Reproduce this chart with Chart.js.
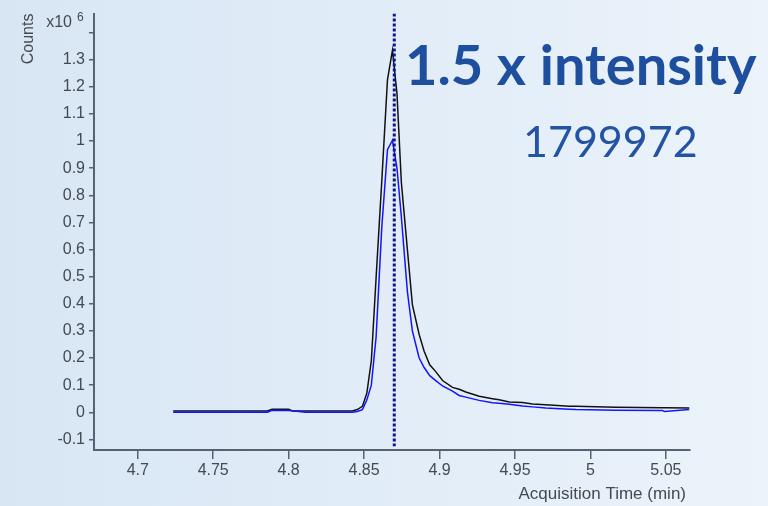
<!DOCTYPE html>
<html>
<head>
<meta charset="utf-8">
<script src="https://cdn.jsdelivr.net/npm/chart.js@4.4.1/dist/chart.umd.min.js"></script>
<style>
  html, body { margin: 0; padding: 0; }
  body {
    width: 768px; height: 506px; overflow: hidden;
    background: linear-gradient(90deg, #d8e6f4 0%, #e2edf8 55%, #ecf3fa 100%);
  }
  #wrap { position: relative; width: 768px; height: 506px; }
</style>
</head>
<body>
<div id="wrap"><canvas id="chart" width="768" height="506"></canvas></div>
<script>
// Acquisition time (min) shared by both traces
const times = [
  4.7235, 4.7859, 4.789, 4.800, 4.8025, 4.8113, 4.8422, 4.8455, 4.8489, 4.8518,
  4.8548, 4.858, 4.8617, 4.8655, 4.8688, 4.8718, 4.8747, 4.8787, 4.882, 4.8865,
  4.8898, 4.8935, 4.8975, 4.902, 4.9086, 4.913, 4.9174, 4.9263, 4.9351, 4.9395,
  4.9462, 4.955, 4.9616, 4.9704, 4.986, 4.9904, 5.0169, 5.0478, 5.049, 5.0655
];

// Counts, x10^6
const blackCounts = [
  0.005, 0.005, 0.011, 0.011, 0.005, 0.005, 0.005, 0.010, 0.022, 0.07,
  0.19, 0.50, 0.85, 1.226, 1.335, 1.175, 0.847, 0.60, 0.397, 0.287,
  0.225, 0.175, 0.150, 0.117, 0.092, 0.085, 0.075, 0.059, 0.050, 0.046,
  0.038, 0.036, 0.031, 0.028, 0.022, 0.022, 0.019, 0.017, 0.017, 0.016
];
const blueCounts = [
  0.0, 0.0, 0.007, 0.007, 0.006, 0.0, 0.0, 0.003, 0.010, 0.045,
  0.10, 0.28, 0.68, 0.968, 1.003, 0.90, 0.72, 0.445, 0.30, 0.20,
  0.165, 0.135, 0.117, 0.097, 0.078, 0.062, 0.056, 0.044, 0.035, 0.033,
  0.030, 0.023, 0.020, 0.016, 0.011, 0.010, 0.008, 0.007, 0.003, 0.010
];

// Retention time marker and its vertical extent
const markerTime = 4.87;
const markerSpan = [1.47, -0.125];

// Axis ranges and tick steps
const xRange = [4.671, 5.066];
const xStep = 0.05;
const yRange = [-0.139, 1.47];
const yStep = 0.1;

const titleText = '1.5 x intensity';
const areaText = '1799972';
const xTitle = 'Acquisition Time (min)';

const axisColor = '#56626f';
const labelColor = '#454a50';
const FONT = "'Liberation Sans', Arial, sans-serif";

const toPoints = (xs, ys) => xs.map((x, i) => ({ x: x, y: ys[i] }));

/**
 * Scritte libere: esponente dell'asse y, titolo asse x e testi in alto a destra
 */
const overlayPlugin = {
  id: 'overlay',
  afterDraw(chart) {
    const ctx = chart.ctx;
    ctx.save();
    ctx.fillStyle = labelColor;
    ctx.textBaseline = 'alphabetic';
    ctx.textAlign = 'right';
    ctx.font = '16px ' + FONT;
    ctx.fillText('x10', 72, 27);
    ctx.font = '17px ' + FONT;
    ctx.fillText(xTitle, 686, 499);
    ctx.textAlign = 'left';
    ctx.font = '12px ' + FONT;
    ctx.fillText('6', 77, 21);

    ctx.fillStyle = '#1d4f9e';
    ctx.font = "bold 56px Lato, 'Open Sans', sans-serif";
    ctx.fillText(titleText, 405, 85);
    ctx.fillStyle = '#2354a4';
    ctx.font = "43px Lato, 'Open Sans', sans-serif";
    ctx.fillText(areaText, 523, 157);
    ctx.restore();
  }
};

const ctx = document.getElementById('chart').getContext('2d');

new Chart(ctx, {
  type: 'line',
  data: {
    datasets: [
      {
        label: 'marker',
        data: [{ x: markerTime, y: markerSpan[0] }, { x: markerTime, y: markerSpan[1] }],
        borderColor: '#0b1690',
        borderWidth: 3,
        borderDash: [3, 2],
        pointRadius: 0,
        order: 0
      },
      {
        label: 'scaled',
        data: toPoints(times, blueCounts),
        borderColor: '#1414ff',
        borderWidth: 1.5,
        pointRadius: 0,
        tension: 0,
        order: 1
      },
      {
        label: 'reference',
        data: toPoints(times, blackCounts),
        borderColor: '#111111',
        borderWidth: 1.5,
        pointRadius: 0,
        tension: 0,
        order: 2
      }
    ]
  },
  options: {
    responsive: false,
    animation: false,
    layout: { padding: { top: 9, right: 78, left: 0, bottom: 0 } },
    plugins: {
      legend: { display: false },
      tooltip: { enabled: false }
    },
    scales: {
      x: {
        type: 'linear',
        min: xRange[0],
        max: xRange[1],
        afterFit: function(scale) { scale.height = 56; },
        border: { display: true, color: axisColor, width: 2 },
        grid: {
          drawOnChartArea: false,
          drawTicks: true,
          tickLength: 9,
          color: axisColor,
          lineWidth: 1.5
        },
        ticks: {
          stepSize: xStep,
          includeBounds: false,
          autoSkip: false,
          maxRotation: 0,
          padding: 2,
          color: labelColor,
          font: { size: 16, family: FONT },
          callback: function(value) {
            return String(Number(value.toFixed(2)));
          }
        }
      },
      y: {
        type: 'linear',
        min: yRange[0],
        max: yRange[1],
        afterFit: function(scale) { scale.width = 94; },
        border: { display: true, color: axisColor, width: 2 },
        grid: {
          drawOnChartArea: false,
          drawTicks: true,
          tickLength: 5,
          color: axisColor,
          lineWidth: 1.5
        },
        ticks: {
          stepSize: yStep,
          includeBounds: false,
          autoSkip: false,
          padding: 4,
          color: labelColor,
          font: { size: 16, family: FONT },
          callback: function(value) {
            const v = Number(value.toFixed(1));
            if (v > 1.35) return '';
            return String(v);
          }
        },
        title: {
          display: true,
          text: 'Counts',
          align: 'end',
          color: labelColor,
          font: { size: 16, family: FONT },
          padding: { top: 19, bottom: 0 }
        }
      }
    }
  },
  plugins: [overlayPlugin]
});
</script>
</body>
</html>
